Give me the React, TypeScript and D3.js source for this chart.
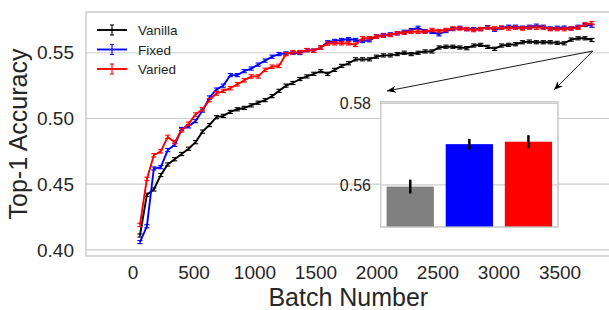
import React from "react";
import * as d3 from "d3";

const batches = [57,114,171,228,285,342,399,456,513,570,627,684,741,798,855,912,969,1026,1083,1140,1197,1254,1311,1368,1425,1482,1539,1596,1653,1710,1767,1824,1881,1938,1995,2052,2109,2166,2223,2280,2337,2394,2451,2508,2565,2622,2679,2736,2793,2850,2907,2964,3021,3078,3135,3192,3249,3306,3363,3420,3477,3534,3591,3648,3705,3762];

const vanilla = [0.411,0.442,0.446,0.457,0.465,0.469,0.473,0.477,0.482,0.490,0.495,0.501,0.502,0.505,0.507,0.508,0.510,0.512,0.514,0.517,0.521,0.525,0.527,0.530,0.532,0.534,0.536,0.534,0.537,0.540,0.542,0.545,0.545,0.545,0.547,0.548,0.548,0.549,0.550,0.549,0.550,0.551,0.551,0.554,0.5546,0.5546,0.554,0.5535,0.5555,0.556,0.5545,0.553,0.5555,0.556,0.5565,0.558,0.5585,0.558,0.558,0.558,0.5575,0.5572,0.560,0.561,0.561,0.5597];

const fixed = [0.406,0.418,0.462,0.463,0.476,0.480,0.492,0.494,0.498,0.506,0.516,0.522,0.525,0.533,0.533,0.536,0.538,0.541,0.544,0.547,0.549,0.5495,0.550,0.5498,0.552,0.5516,0.554,0.558,0.559,0.5597,0.5604,0.5597,0.5589,0.5595,0.5625,0.5635,0.564,0.5648,0.566,0.5673,0.569,0.5665,0.5658,0.564,0.5665,0.568,0.569,0.568,0.568,0.568,0.5695,0.5675,0.569,0.5698,0.5698,0.5691,0.5698,0.5706,0.5698,0.5685,0.569,0.5691,0.5685,0.5698,0.5711,0.5706];

const varied = [0.419,0.454,0.472,0.475,0.486,0.482,0.491,0.496,0.503,0.507,0.514,0.519,0.521,0.523,0.526,0.529,0.532,0.532,0.537,0.5394,0.540,0.549,0.5503,0.5505,0.552,0.5516,0.554,0.557,0.5572,0.5572,0.5572,0.556,0.561,0.561,0.5622,0.563,0.5635,0.5648,0.5652,0.566,0.566,0.566,0.5673,0.5665,0.5673,0.5685,0.5685,0.568,0.5673,0.568,0.5691,0.5685,0.5691,0.5685,0.5691,0.5685,0.5691,0.5691,0.5691,0.568,0.568,0.568,0.5685,0.5691,0.5716,0.5725];

const seriesNames = ["Vanilla", "Fixed", "Varied"];
const seriesColors = ["#000000", "#0000ff", "#ff0000"];
const seriesErr = [0.0012, 0.0012, 0.0013];

const xTicks = [0, 500, 1000, 1500, 2000, 2500, 3000, 3500];
const yTicks = [0.40, 0.45, 0.50, 0.55];

const barNames = ["Vanilla", "Fixed", "Varied"];
const barValues = [0.5596, 0.5700, 0.5706];
const barErr = [0.0017, 0.0013, 0.0016];
const barColors = ["#808080", "#0000ff", "#ff0000"];
const insetTicks = [0.56, 0.58];

const arrowFrom = [3768, 0.5513];
const arrowTargets = [[2082, 0.5209], [3450, 0.5216]];

const FONT = "'Liberation Sans', Arial, Helvetica, sans-serif";
const TXT = "#262626";
const GRID = "#cccccc";

export default function App() {
  const W = 609, H = 310;
  const L = 86, R = 612, T = 12, B = 256;
  const x = d3.scaleLinear().domain([-385, 3926]).range([L, R]);
  const y = d3.scaleLinear().domain([0.3954, 0.581]).range([B, T]);

  const series = [vanilla, fixed, varied];
  const line = d3.line<[number, number]>().x(d => x(d[0])).y(d => y(d[1]));

  // inset
  const iL = 380.7, iR = 558, iT = 101.7, iB = 227;
  const iy = d3.scaleLinear().domain([0.5497, 0.5804]).range([iB, iT]);
  const ix = d3.scaleBand<string>().domain(barNames).range([iL, iR]).paddingInner(0.2).paddingOuter(0.1);

  const [fx, fy] = [x(arrowFrom[0]), y(arrowFrom[1])];

  return (
    <svg width={W} height={H} style={{ position: "absolute", left: 0, top: 0, background: "#fff" }} fontFamily={FONT}>
      <defs>
        <marker id="ah" viewBox="0 0 10 10" refX="10" refY="5" markerWidth="9" markerHeight="9" orient="auto" markerUnits="userSpaceOnUse">
          <path d="M0,1 L10,5 L0,9 L3,5 Z" fill="#000" />
        </marker>
      </defs>
      <rect x={0} y={0} width={W} height={H} fill="#fff" />
      {yTicks.map(t => (
        <line key={t} x1={L} x2={R} y1={y(t)} y2={y(t)} stroke={GRID} strokeWidth={1.2} />
      ))}
      <path d={`M${R},${T} H${L} V${B} H${R}`} fill="none" stroke={GRID} strokeWidth={1.5} />
      {yTicks.map(t => (
        <text key={t} x={74} y={y(t) + 6.7} textAnchor="end" fontSize={19} fill={TXT}>{t.toFixed(2)}</text>
      ))}
      {xTicks.map(t => (
        <text key={t} x={x(t)} y={279} textAnchor="middle" fontSize={19} fill={TXT}>{t}</text>
      ))}
      <text x={348.3} y={306} textAnchor="middle" fontSize={25} fill={TXT}>Batch Number</text>
      <text transform="translate(27,134) rotate(-90)" textAnchor="middle" fontSize={25} fill={TXT}>Top-1 Accuracy</text>

      {series.map((vals, si) => {
        const pts = batches.map((b, i) => [b, vals[i]] as [number, number]);
        const c = seriesColors[si];
        const e = seriesErr[si];
        return (
          <g key={si}>
            <path d={line(pts) || ""} fill="none" stroke={c} strokeWidth={1.9} />
            {pts.map((p, i) => {
              const px = x(p[0]);
              const y1 = y(p[1] - e), y2 = y(p[1] + e);
              return (
                <g key={i} stroke={c} strokeWidth={1.1}>
                  <line x1={px} x2={px} y1={y1} y2={y2} />
                  <line x1={px - 2.6} x2={px + 2.6} y1={y1} y2={y1} />
                  <line x1={px - 2.6} x2={px + 2.6} y1={y2} y2={y2} />
                </g>
              );
            })}
          </g>
        );
      })}

      {seriesNames.map((n, i) => {
        const ly = 30 + i * 19.5;
        const c = seriesColors[i];
        return (
          <g key={n}>
            <line x1={97} x2={127} y1={ly} y2={ly} stroke={c} strokeWidth={1.9} />
            <line x1={112} x2={112} y1={ly - 5} y2={ly + 5} stroke={c} strokeWidth={1.1} />
            <line x1={110} x2={114} y1={ly - 5} y2={ly - 5} stroke={c} strokeWidth={1.1} />
            <line x1={110} x2={114} y1={ly + 5} y2={ly + 5} stroke={c} strokeWidth={1.1} />
            <text x={138} y={ly + 5} fontSize={13.5} fill={TXT}>{n}</text>
          </g>
        );
      })}

      {arrowTargets.map((t, i) => (
        <line key={i} x1={fx} y1={fy} x2={x(t[0])} y2={y(t[1])} stroke="#000" strokeWidth={0.9} markerEnd="url(#ah)" />
      ))}

      <rect x={iL} y={iT} width={iR - iL} height={iB - iT} fill="#fff" stroke={GRID} strokeWidth={1.2} />
      {insetTicks.map(t => (
        <g key={t}>
          <line x1={iL} x2={iR} y1={iy(t)} y2={iy(t)} stroke={GRID} strokeWidth={1.2} />
          <text x={371} y={iy(t) + 5.6} textAnchor="end" fontSize={16} fill={TXT}>{t.toFixed(2)}</text>
        </g>
      ))}
      {barNames.map((n, i) => {
        const bx = ix(n) as number;
        const bw = ix.bandwidth();
        const cx = bx + bw / 2;
        return (
          <g key={n}>
            <rect x={bx} y={iy(barValues[i])} width={bw} height={iB - iy(barValues[i])} fill={barColors[i]} />
            <line x1={cx} x2={cx} y1={iy(barValues[i] - barErr[i])} y2={iy(barValues[i] + barErr[i])} stroke="#000" strokeWidth={2.5} />
          </g>
        );
      })}
      <rect x={iL} y={iT} width={iR - iL} height={iB - iT} fill="none" stroke={GRID} strokeWidth={1.2} />
    </svg>
  );
}
